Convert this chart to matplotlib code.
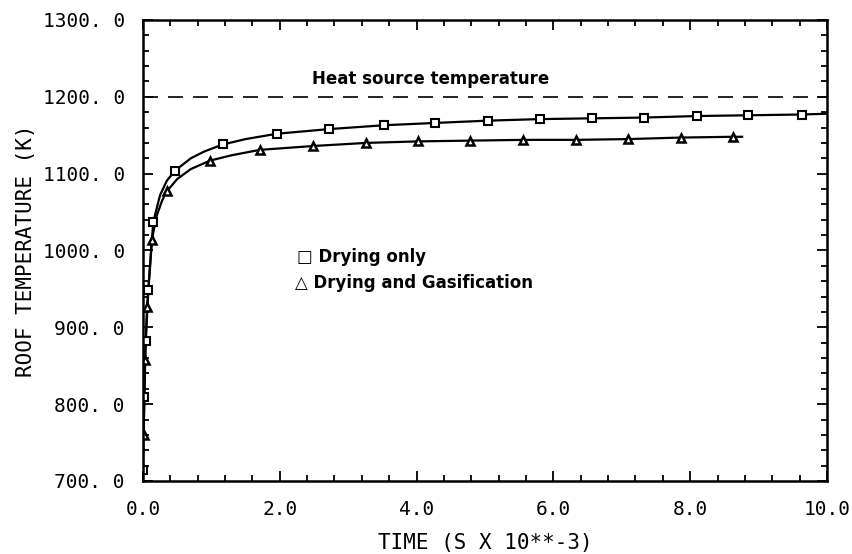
import matplotlib
matplotlib.use("Agg")
import matplotlib.pyplot as plt
from matplotlib.ticker import MultipleLocator, FuncFormatter

# values
DRY_T = [0.0, 0.02, 0.04, 0.08, 0.15, 0.47, 1.17, 1.96, 2.72, 3.52, 4.27, 5.04, 5.80, 6.56, 7.32, 8.10, 8.85, 9.63]
DRY_K = [714, 809, 882, 949, 1037, 1104, 1138, 1152, 1158, 1163, 1166, 1169, 1171, 1172, 1173, 1175, 1176, 1177]
GAS_T = [0.01, 0.03, 0.06, 0.13, 0.35, 0.98, 1.71, 2.49, 3.26, 4.02, 4.78, 5.56, 6.33, 7.09, 7.87, 8.63]
GAS_K = [760, 858, 927, 1014, 1077, 1117, 1131, 1136, 1140, 1142, 1143, 1144, 1144, 1145, 1147, 1148]

# smooth curves drawn through the markers
DRY_CURVE_T = [0.0, 0.02, 0.04, 0.08, 0.15, 0.25, 0.35, 0.47, 0.7, 0.9, 1.17, 1.5, 1.96, 2.72, 3.52, 4.27, 5.04, 5.80, 6.56, 7.32, 8.10, 8.85, 9.63, 10.0]
DRY_CURVE_K = [714, 809, 882, 949, 1037, 1072, 1091, 1104, 1120, 1129, 1138, 1145, 1152, 1158, 1163, 1166, 1169, 1171, 1172, 1173, 1175, 1176, 1177, 1178]
GAS_CURVE_T = [0.01, 0.03, 0.06, 0.13, 0.2, 0.28, 0.35, 0.5, 0.7, 0.98, 1.3, 1.71, 2.49, 3.26, 4.02, 4.78, 5.56, 6.33, 7.09, 7.87, 8.63, 8.76]
GAS_CURVE_K = [760, 858, 927, 1014, 1045, 1065, 1077, 1093, 1106, 1117, 1124, 1131, 1136, 1140, 1142, 1143, 1144, 1144, 1145, 1147, 1148, 1148]

HEAT_SOURCE = 1200
X_RANGE = (0, 10)
Y_RANGE = (700, 1300)

MONO = "DejaVu Sans Mono"
SANS = "DejaVu Sans"

fig = plt.figure(figsize=(8.53, 5.54), dpi=100, facecolor="white")
ax = fig.add_axes([0.1676, 0.1318, 0.8019, 0.8321])

ax.plot(X_RANGE, [HEAT_SOURCE, HEAT_SOURCE], color="black", lw=1.2, ls=(0, (9, 6)))

ax.plot(DRY_CURVE_T, DRY_CURVE_K, color="black", lw=1.6)
ax.plot(GAS_CURVE_T, GAS_CURVE_K, color="black", lw=1.6)
ax.plot(DRY_T, DRY_K, ls="none", marker="s", ms=6, mfc="white", mec="black", mew=1.5)
ax.plot(GAS_T, GAS_K, ls="none", marker="^", ms=6, mfc="white", mec="black", mew=1.8)

ax.set_xlim(*X_RANGE)
ax.set_ylim(*Y_RANGE)
ax.xaxis.set_major_locator(MultipleLocator(2))
ax.xaxis.set_minor_locator(MultipleLocator(0.4))
ax.yaxis.set_major_locator(MultipleLocator(100))
ax.yaxis.set_minor_locator(MultipleLocator(20))
ax.xaxis.set_major_formatter(FuncFormatter(lambda v, pos: f"{v:.1f}"))
ax.yaxis.set_major_formatter(FuncFormatter(lambda v, pos: f"{v:.1f}".replace(".", ". ")))

ax.tick_params(which="both", direction="in", top=True, right=True, width=1.3, color="black")
ax.tick_params(which="major", length=7, labelsize=14)
ax.tick_params(axis="y", which="major", pad=13)
ax.tick_params(axis="x", which="major", pad=14)
ax.tick_params(which="minor", length=4.5)
for lab in ax.get_xticklabels() + ax.get_yticklabels():
    lab.set_family(MONO)
for spine in ax.spines.values():
    spine.set_linewidth(1.8)

ax.set_xlabel("TIME (S X 10**-3)", family=MONO, fontsize=15, labelpad=10)
ax.set_ylabel("ROOF TEMPERATURE (K)", family=MONO, fontsize=15, labelpad=5)

ax.text(2.47, 1212, "Heat source temperature", family=SANS, fontsize=12, fontweight="bold", va="bottom")
ax.text(2.25, 991, "\u25a1 Drying only", family=SANS, fontsize=12, fontweight="bold", va="center")
ax.text(2.22, 958, "\u25b3 Drying and Gasification", family=SANS, fontsize=12, fontweight="bold", va="center")

fig.savefig("out.png", dpi=100, facecolor="white")
